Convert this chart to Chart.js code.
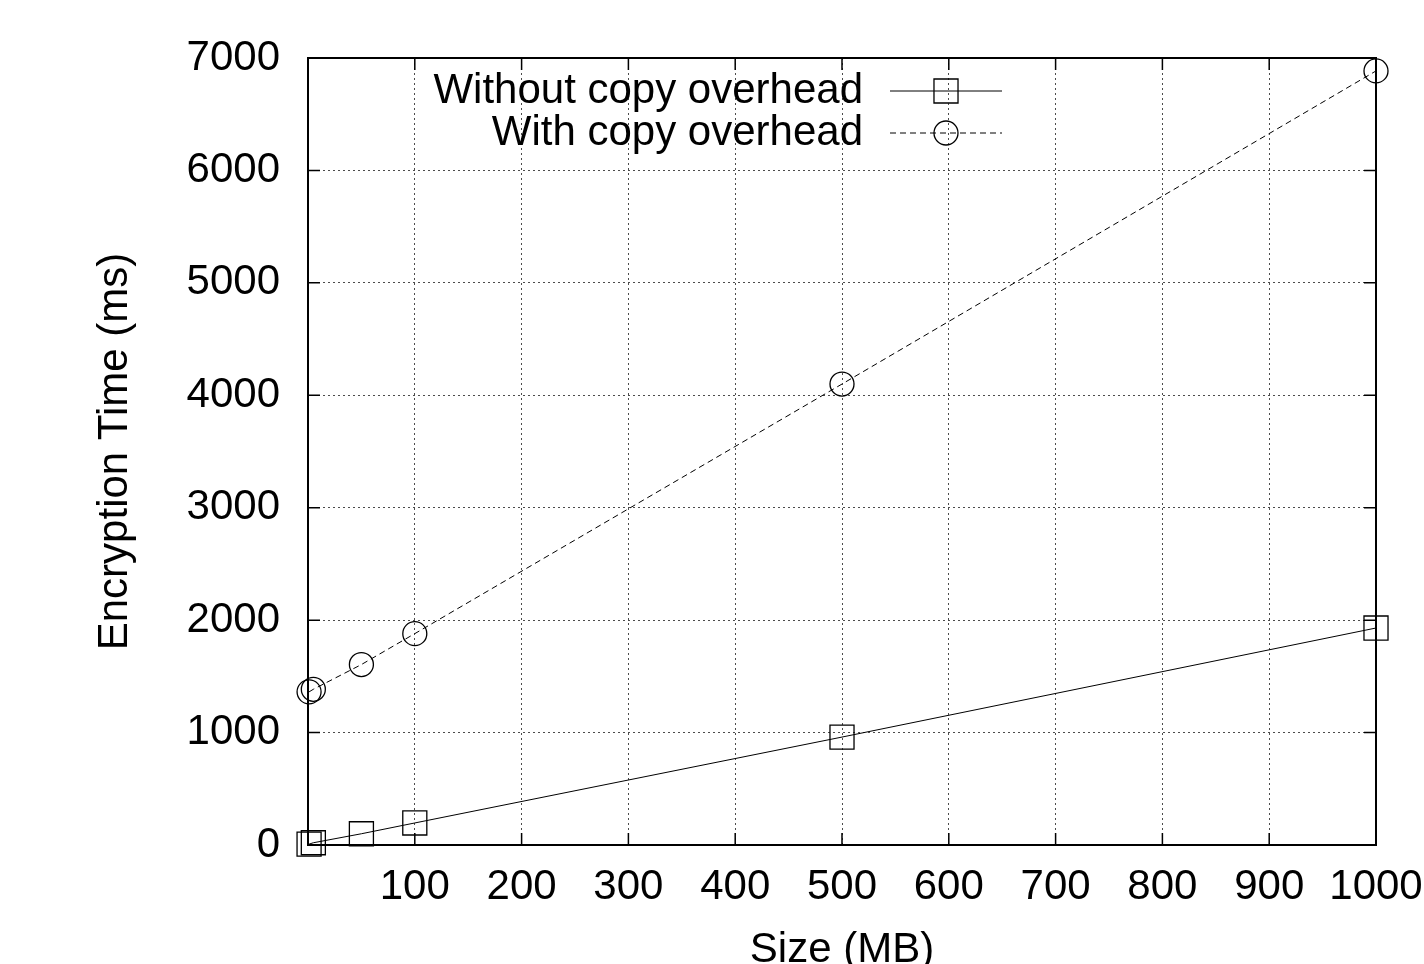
<!DOCTYPE html>
<html>
<head>
<meta charset="utf-8">
<title>Encryption Time</title>
<script src="https://cdn.jsdelivr.net/npm/chart.js@4.4.1/dist/chart.umd.min.js"></script>
<style>
    html, body { margin: 0; padding: 0; background: #fff; }
    #wrap { width: 1424px; height: 964px; }
</style>
</head>
<body>
<div id="wrap"><canvas id="encChart" width="1424" height="964"></canvas></div>
<script>
// values
var sizes = [1, 5, 50, 100, 500, 1000];
var withoutCopy = [8, 20, 100, 196, 960, 1930];
var withCopy = [1362, 1385, 1605, 1880, 4100, 6885];
var seriesNames = ['Without copy overhead', 'With copy overhead'];
var xTicks = [100, 200, 300, 400, 500, 600, 700, 800, 900, 1000];
var yTicks = [0, 1000, 2000, 3000, 4000, 5000, 6000, 7000];

var FONT = 'Liberation Sans, Arial, Helvetica, sans-serif';
var FONT_SIZE = 42;

function toPoints(xs, ys) {
    return xs.map(function (x, i) { return { x: x, y: ys[i] }; });
}

// frame with inward ticks on all four sides, like gnuplot
var framePlugin = {
    id: 'frame',
    afterDraw: function (chart) {
        var ctx = chart.ctx;
        var a = chart.chartArea;
        var xs = chart.scales.x, ys = chart.scales.y;
        var len = 12;
        ctx.save();
        ctx.strokeStyle = '#000';
        ctx.lineWidth = 1.5;
        ctx.beginPath();
        xTicks.forEach(function (v) {
            var px = xs.getPixelForValue(v);
            ctx.moveTo(px, a.bottom); ctx.lineTo(px, a.bottom - len);
            ctx.moveTo(px, a.top); ctx.lineTo(px, a.top + len);
        });
        yTicks.forEach(function (v) {
            var py = ys.getPixelForValue(v);
            ctx.moveTo(a.left, py); ctx.lineTo(a.left + len, py);
            ctx.moveTo(a.right, py); ctx.lineTo(a.right - len, py);
        });
        ctx.stroke();
        ctx.lineWidth = 2;
        ctx.strokeRect(a.left, a.top, a.right - a.left, a.bottom - a.top);
        ctx.restore();
    }
};

// legend inside the plot: text right-aligned, sample line + marker to the right
var keyPlugin = {
    id: 'key',
    afterDraw: function (chart) {
        var ctx = chart.ctx;
        var textRight = 863, lineFrom = 890, lineTo = 1002, rowY = [91, 133];
        ctx.save();
        chart.data.datasets.forEach(function (ds, i) {
            var y = rowY[i];
            ctx.font = FONT_SIZE + 'px ' + FONT;
            ctx.fillStyle = '#000';
            ctx.textAlign = 'right';
            ctx.textBaseline = 'middle';
            ctx.fillText(ds.label, textRight, y);

            ctx.strokeStyle = '#000';
            ctx.lineWidth = 1;
            ctx.setLineDash(ds.borderDash || []);
            ctx.beginPath();
            ctx.moveTo(lineFrom, y);
            ctx.lineTo(lineTo, y);
            ctx.stroke();
            ctx.setLineDash([]);

            ctx.fillStyle = 'rgba(0,0,0,0)';
            ctx.lineWidth = ds.pointBorderWidth;
            Chart.helpers.drawPoint(ctx, {
                pointStyle: ds.pointStyle,
                radius: ds.pointRadius,
                borderWidth: ds.pointBorderWidth,
                rotation: 0
            }, (lineFrom + lineTo) / 2, y);
        });
        ctx.restore();
    }
};

var ctx = document.getElementById('encChart').getContext('2d');

var chart = new Chart(ctx, {
    type: 'line',
    data: {
        datasets: [{
            label: seriesNames[0],
            data: toPoints(sizes, withoutCopy),
            borderColor: '#000',
            borderWidth: 1,
            backgroundColor: 'rgba(0,0,0,0)',
            pointStyle: 'rect',
            pointRadius: 17,
            pointBorderWidth: 1.3,
            pointBorderColor: '#000',
            pointBackgroundColor: 'rgba(0,0,0,0)',
            tension: 0,
            clip: false
        }, {
            label: seriesNames[1],
            data: toPoints(sizes, withCopy),
            borderColor: '#000',
            borderWidth: 1,
            borderDash: [6, 4],
            backgroundColor: 'rgba(0,0,0,0)',
            pointStyle: 'circle',
            pointRadius: 12,
            pointBorderWidth: 1.3,
            pointBorderColor: '#000',
            pointBackgroundColor: 'rgba(0,0,0,0)',
            tension: 0,
            clip: false
        }]
    },
    options: {
        responsive: false,
        animation: false,
        devicePixelRatio: 1,
        layout: {
            padding: { left: 90, right: 48, top: 58, bottom: 0 }
        },
        plugins: {
            legend: { display: false },
            tooltip: { enabled: false }
        },
        scales: {
            x: {
                type: 'linear',
                min: 0,
                max: 1000,
                border: { display: false, dash: [2, 3] },
                grid: {
                    color: 'rgba(0,0,0,0.7)',
                    lineWidth: 1,
                    drawTicks: false
                },
                ticks: {
                    stepSize: 100,
                    autoSkip: false,
                    maxRotation: 0,
                    padding: 17,
                    color: '#000',
                    font: { family: FONT, size: FONT_SIZE, lineHeight: 1.2 },
                    callback: function (v) { return v === 0 ? '' : String(v); }
                },
                title: {
                    display: true,
                    text: 'Size (MB)',
                    color: '#000',
                    padding: 0,
                    font: { family: FONT, size: FONT_SIZE, lineHeight: 0.66 }
                },
                afterFit: function (scale) {
                    scale.height = 119;
                    scale.paddingLeft = 0;
                    scale.paddingRight = 0;
                }
            },
            y: {
                type: 'linear',
                min: 0,
                max: 7000,
                border: { display: false, dash: [2, 3] },
                grid: {
                    color: 'rgba(0,0,0,0.7)',
                    lineWidth: 1,
                    drawTicks: false
                },
                ticks: {
                    stepSize: 1000,
                    padding: 28,
                    color: '#000',
                    font: { family: FONT, size: FONT_SIZE, lineHeight: 1.2 },
                    callback: function (v) { return String(v); }
                },
                title: {
                    display: true,
                    text: 'Encryption Time (ms)',
                    color: '#000',
                    padding: 0,
                    font: { family: FONT, size: FONT_SIZE, lineHeight: 1.2 }
                },
                afterFit: function (scale) {
                    scale.width = 218;
                    scale.paddingTop = 0;
                    scale.paddingBottom = 0;
                }
            }
        }
    },
    plugins: [framePlugin, keyPlugin]
});
</script>
</body>
</html>
